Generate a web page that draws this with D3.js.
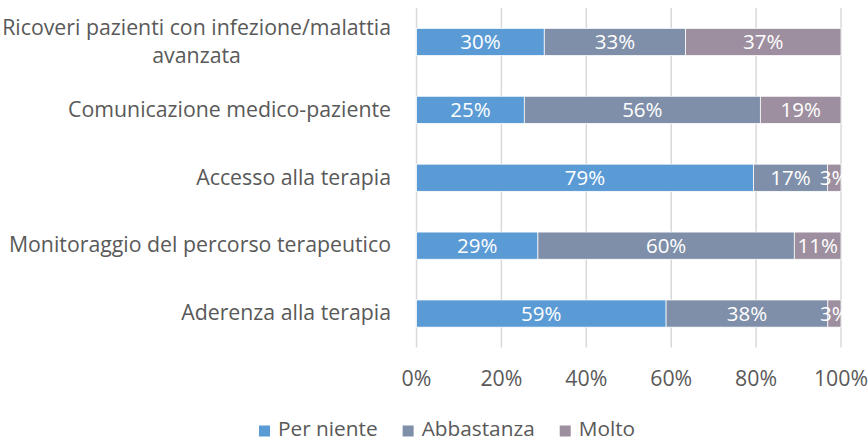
<!DOCTYPE html>
<html>
<head>
<meta charset="utf-8">
<script src="https://cdn.jsdelivr.net/npm/d3@7"></script>
<style>
  body { margin: 0; background: #fff; }
  text { font-family: "Open Sans", Lato, sans-serif; }
</style>
</head>
<body>
<svg></svg>
<script>
let width = 868, height = 443;

let svg = d3.select("svg")
    .attr("width", width)
    .attr("height", height);

// Data (percent of answers)
let categories = [
    "Ricoveri pazienti con infezione/malattia avanzata",
    "Comunicazione medico-paziente",
    "Accesso alla terapia",
    "Monitoraggio del percorso terapeutico",
    "Aderenza alla terapia"
];
let series = ["Per niente", "Abbastanza", "Molto"];
let perNiente  = [30.1, 25.4, 79.4, 28.6, 58.8];
let abbastanza = [33.3, 55.6, 17.4, 60.4, 38.1];
let molto      = [36.6, 19.0, 3.2, 11.0, 3.1];
let xTicks = [0, 0.2, 0.4, 0.6, 0.8, 1];
let colors = ["#5b9bd5", "#7f8fa9", "#9e8fa0"];

let rows = categories.map((c, i) => ({
    cat: c,
    "Per niente": perNiente[i],
    "Abbastanza": abbastanza[i],
    "Molto": molto[i]
}));

let plotLeft = 416.5, plotRight = 841, plotTop = 8, plotBottom = 347.5;
let textColor = "#595959";
let fontSize = "21.3px";

let x = d3.scaleLinear().domain([0, 1]).range([plotLeft, plotRight]);
let y = d3.scaleBand().domain(categories).range([plotTop, plotBottom])
    .paddingInner(0.6).paddingOuter(0.3);

// labels get clipped at the plot edge, like in the original
svg.append("defs").append("clipPath")
    .attr("id", "plotclip")
    .append("rect")
    .attr("x", 0).attr("y", 0)
    .attr("width", plotRight + 1).attr("height", height);

// gridlines
svg.append("g")
    .attr("id", "grid")
    .selectAll("line")
    .data(xTicks)
    .enter()
    .append("line")
    .attr("x1", d => x(d))
    .attr("x2", d => x(d))
    .attr("y1", plotTop)
    .attr("y2", plotBottom)
    .attr("stroke", "#d9d9d9")
    .attr("stroke-width", 1.5);

// stacked bars, normalized to 100%
let stack = d3.stack().keys(series)
    .offset(d3.stackOffsetExpand);
let layers = stack(rows);

let layer = svg.append("g")
    .attr("id", "bars")
    .selectAll("g")
    .data(layers)
    .enter()
    .append("g")
    .attr("fill", (d, i) => colors[i]);

layer.selectAll("rect")
    .data(d => d.map(s => ({ s: s, key: d.key })))
    .enter()
    .append("rect")
    .attr("x", d => x(d.s[0]))
    .attr("width", d => x(d.s[1]) - x(d.s[0]))
    .attr("y", d => y(d.s.data.cat))
    .attr("height", y.bandwidth())
    .attr("stroke", "#fff")
    .attr("stroke-width", 0.75);

// value labels
layer.selectAll("text")
    .data(d => d.map(s => ({ s: s, key: d.key })))
    .enter()
    .append("text")
    .attr("clip-path", "url(#plotclip)")
    .attr("x", d => (x(d.s[0]) + x(d.s[1])) / 2)
    .attr("y", d => y(d.s.data.cat) + y.bandwidth() / 2)
    .attr("dy", "0.36em")
    .attr("text-anchor", "middle")
    .attr("fill", "#fff")
    .style("font-size", "20.5px")
    .text(d => Math.round(d.s.data[d.key]) + "%");

// x axis tick labels
svg.append("g")
    .attr("id", "xlabels")
    .selectAll("text")
    .data(xTicks)
    .enter()
    .append("text")
    .attr("x", d => x(d))
    .attr("y", 378)
    .attr("dy", "0.36em")
    .attr("text-anchor", "middle")
    .attr("fill", textColor)
    .style("font-size", fontSize)
    .text(d3.format(".0%"));

// category labels, wrapped like Excel does
let labelRight = 391, maxLabel = 396, lineH = 28;
let ylab = svg.append("g").attr("id", "ylabels");

categories.forEach(c => {
    let t = ylab.append("text")
        .attr("fill", textColor)
        .style("font-size", fontSize);
    // greedy word wrap
    let words = c.split(" "), lines = [], cur = "";
    words.forEach(w => {
        let test = cur ? cur + " " + w : w;
        t.text(test);
        if (t.node().getComputedTextLength() > maxLabel && cur) {
            lines.push(cur);
            cur = w;
        } else {
            cur = test;
        }
    });
    lines.push(cur);
    t.text("");
    let cy = y(c) + y.bandwidth() / 2;
    if (lines.length == 1) {
        t.attr("x", labelRight).attr("y", cy).attr("dy", "0.32em")
            .attr("text-anchor", "end").text(lines[0]);
    } else {
        let widths = lines.map(l => { t.text(l); return t.node().getComputedTextLength(); });
        t.text("");
        let cx = labelRight - d3.max(widths) / 2;
        lines.forEach((l, i) => {
            t.append("tspan")
                .attr("x", cx)
                .attr("y", cy + (i - (lines.length - 1) / 2) * lineH)
                .attr("dy", "0.32em")
                .attr("text-anchor", "middle")
                .text(l);
        });
    }
});

// legend
let legend = svg.append("g").attr("id", "legend");
let lx = 259;
series.forEach((s, i) => {
    legend.append("rect")
        .attr("x", lx)
        .attr("y", 425.5)
        .attr("width", 11)
        .attr("height", 11)
        .attr("fill", colors[i]);
    let t = legend.append("text")
        .attr("x", lx + 19)
        .attr("y", 429)
        .attr("dy", "0.36em")
        .attr("fill", textColor)
        .style("font-size", "20.8px")
        .text(s);
    lx += 19 + t.node().getComputedTextLength() + 25;
});
</script>
</body>
</html>
